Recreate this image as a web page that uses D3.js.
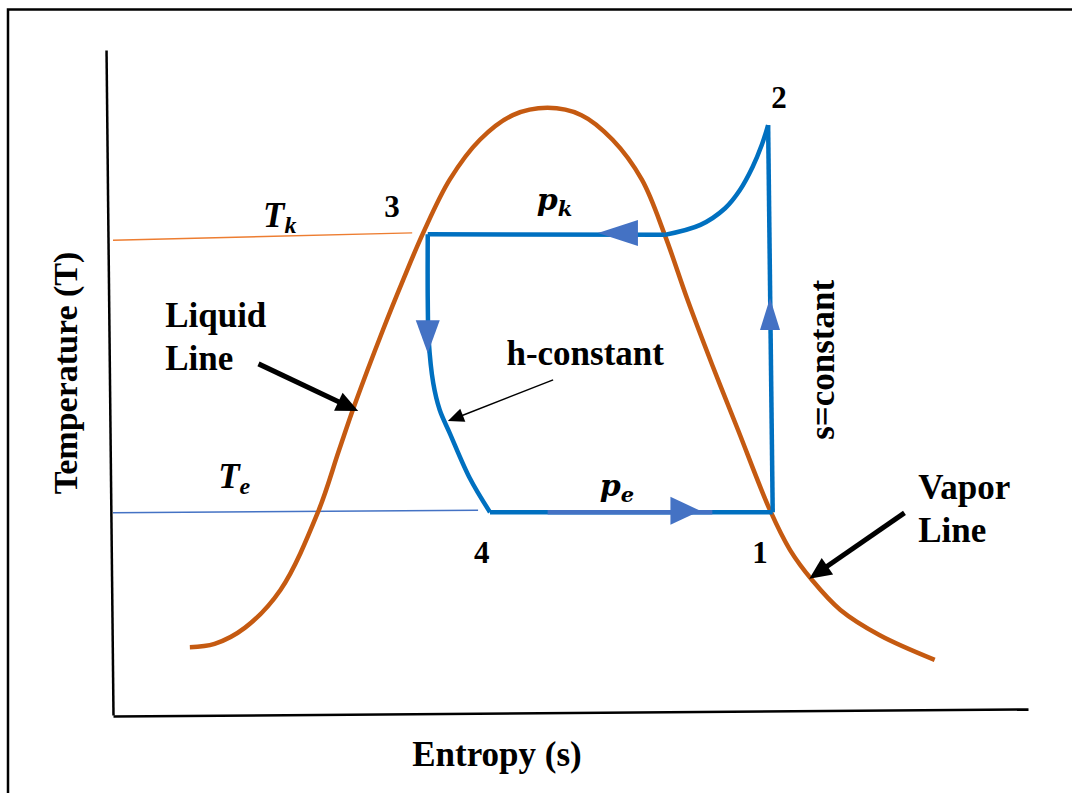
<!DOCTYPE html>
<html>
<head>
<meta charset="utf-8">
<script src="https://cdn.jsdelivr.net/npm/d3@7"></script>
<style>
  body { margin: 0; background: #fff; }
  svg text { font-family: "Liberation Serif", "Times New Roman", serif; font-weight: bold; fill: #000; }
</style>
</head>
<body>
<div id="chart"></div>
<script>
// saturation dome (s, T)
const domeS = [0.84, 1.11, 1.44, 1.83, 2.24, 2.47, 2.64, 2.95, 3.17, 3.39, 3.68, 4.01, 4.37, 4.75, 5.12, 5.46, 5.78, 6.03, 6.28, 6.55, 6.83, 7.18, 7.40, 7.64, 7.95, 8.38, 8.98];
const domeT = [1.02, 1.07, 1.31, 1.88, 3.05, 3.98, 4.66, 5.79, 6.54, 7.25, 8.05, 8.65, 9.02, 9.13, 9.02, 8.65, 8.05, 7.22, 6.24, 5.26, 4.29, 3.08, 2.48, 2.03, 1.58, 1.20, 0.83];

// cycle pieces
const condS = [3.44, 6.03];             // 3 -> dome crossing, p_k
const condT = [7.23, 7.22];
const desupS = [6.03, 6.42, 6.69, 6.85, 6.99, 7.09, 7.16];   // crossing -> 2
const desupT = [7.22, 7.37, 7.62, 7.89, 8.24, 8.57, 8.87];
const compS = [7.16, 7.21];             // 2 -> 1, s=constant
const compT = [8.87, 3.05];
const evapS = [7.21, 4.12];             // 1 -> 4, p_e
const evapT = [3.05, 3.05];
const evapMidS = [4.75, 6.55];
const valveS = [4.12, 3.90, 3.68, 3.57, 3.50, 3.45, 3.44, 3.44];  // 4 -> 3, h-constant
const valveT = [3.05, 3.56, 4.24, 4.59, 4.99, 5.64, 6.24, 7.23];

// isotherm lines
const tkS = [0, 3.27], tkT = [7.14, 7.25];
const teS = [0, 3.99], teT = [3.04, 3.08];

// flow arrows: tip position and direction (degrees, 0 = right, 90 = down)
const flowS = [5.30, 7.18, 3.44, 6.42];
const flowT = [7.25, 6.27, 5.44, 3.07];
const flowDir = [180, -90, 90, 0];
const flowLen = [40, 32, 33, 30];
const flowHalf = [13, 10, 12, 14];

// pointer arrows: from -> tip
const ptrFromS = [1.59, 8.65, 4.81], ptrFromT = [5.28, 3.04, 5.04];
const ptrToS = [2.68, 7.61, 3.66], ptrToT = [4.57, 2.05, 4.42];
const ptrWidth = [5, 5, 1.5];

// labels
const pointLabels = ["1", "2", "3", "4"];
const pointS = [7.07, 7.28, 3.05, 4.03];
const pointT = [2.29, 9.13, 7.49, 2.29];
const noteLines = [["Liquid", "Line"], ["h-constant"], ["Vapor", "Line"]];
const noteS = [0.57, 4.30, 8.80];
const noteT = [5.84, 5.26, 3.25];

const W = 1072, H = 793;
const svg = d3.select("#chart").append("svg").attr("width", W).attr("height", H);

const x = d3.scaleLinear().domain([0, 10]).range([113, 1028]);
const y = d3.scaleLinear().domain([0, 10]).range([715, 50]);

const zip = (a, b) => a.map((v, i) => [v, b[i]]);
const line = d3.line().x(d => x(d[0])).y(d => y(d[1]));
const smooth = d3.line().x(d => x(d[0])).y(d => y(d[1])).curve(d3.curveCatmullRom.alpha(0.5));

// frame
svg.append("path").attr("d", `M8,${H} L8,9.5 L${W},9.5`)
  .attr("fill", "none").attr("stroke", "#000").attr("stroke-width", 2.5);

// axes (no ticks)
svg.append("g").attr("transform", "translate(0,716) rotate(-0.44,113,0)")
  .call(d3.axisBottom(x).tickValues([]).tickSizeOuter(0))
  .call(g => g.select(".domain").attr("stroke", "#000").attr("stroke-width", 2.5));
svg.append("g").attr("transform", "translate(113,0) rotate(-0.6,0,716)")
  .call(d3.axisLeft(y).tickValues([]).tickSizeOuter(0))
  .call(g => g.select(".domain").attr("stroke", "#000").attr("stroke-width", 2.5));

// isotherms
svg.append("path").attr("d", line(zip(tkS, tkT))).attr("stroke", "#ed7d31").attr("stroke-width", 1.5).attr("fill", "none");
svg.append("path").attr("d", line(zip(teS, teT))).attr("stroke", "#4472c4").attr("stroke-width", 1.5).attr("fill", "none");

// dome
svg.append("path").attr("d", smooth(zip(domeS, domeT)))
  .attr("fill", "none").attr("stroke", "#c55a11").attr("stroke-width", 4.5);

// cycle
const blue = "#0070c0", lightBlue = "#4472c4";
const cyc = svg.append("g").attr("fill", "none").attr("stroke", blue).attr("stroke-width", 4.5);
cyc.append("path").attr("d", line(zip(condS, condT)));
cyc.append("path").attr("d", smooth(zip(desupS, desupT)));
cyc.append("path").attr("d", line(zip(compS, compT)));
cyc.append("path").attr("d", line(zip(evapS, evapT)));
cyc.append("path").attr("d", line(zip(evapMidS, evapT))).attr("stroke", lightBlue);
cyc.append("path").attr("d", smooth(zip(valveS, valveT)));

// flow arrows
flowS.forEach((s, i) => {
  const L = flowLen[i], h = flowHalf[i];
  svg.append("path")
    .attr("d", `M0,0 L${-L},${-h} L${-L},${h} Z`)
    .attr("fill", lightBlue)
    .attr("transform", `translate(${x(s)},${y(flowT[i])}) rotate(${flowDir[i]})`);
});

// pointer arrows
ptrFromS.forEach((s, i) => {
  const x0 = x(s), y0 = y(ptrFromT[i]), x1 = x(ptrToS[i]), y1 = y(ptrToT[i]);
  const ang = Math.atan2(y1 - y0, x1 - x0) * 180 / Math.PI;
  const len = Math.hypot(x1 - x0, y1 - y0);
  const w = ptrWidth[i];
  const headL = w > 2 ? 22 : 16, headH = w > 2 ? 10 : 7;
  const g = svg.append("g").attr("transform", `translate(${x0},${y0}) rotate(${ang})`);
  g.append("line").attr("x1", 0).attr("y1", 0).attr("x2", len - headL + 2).attr("y2", 0)
    .attr("stroke", "#000").attr("stroke-width", w);
  g.append("path").attr("d", `M${len},0 L${len - headL},${-headH} L${len - headL},${headH} Z`).attr("fill", "#000");
});

// state point labels
svg.selectAll(".pt").data(pointLabels).join("text")
  .attr("class", "pt")
  .attr("x", (d, i) => x(pointS[i])).attr("y", (d, i) => y(pointT[i]))
  .attr("text-anchor", "middle").style("font-size", "31px")
  .text(d => d);

// notes
noteLines.forEach((lines, i) => {
  const t = svg.append("text").attr("x", x(noteS[i])).attr("y", y(noteT[i])).style("font-size", "35px");
  lines.forEach((l, j) => t.append("tspan").attr("x", x(noteS[i])).attr("dy", j ? 43 : 0).text(l));
});

// s=constant
svg.append("text").attr("transform", `translate(${x(7.88)},${y(5.34)}) rotate(-90)`)
  .attr("text-anchor", "middle").style("font-size", "35px").text("s=constant");

// math labels
function mathLabel(px, py, main, sub, size, subSize, font) {
  const t = svg.append("text").attr("x", px).attr("y", py)
    .style("font-style", "italic").style("font-size", size + "px");
  if (font) t.style("font-family", font);
  t.append("tspan").text(main);
  t.append("tspan").attr("dy", 6).style("font-size", subSize + "px").text(sub);
}
mathLabel(x(1.64), y(7.34), "T", "k", 35, 24);
mathLabel(x(1.15), y(3.41), "T", "e", 35, 24);
mathLabel(x(4.63), y(7.59), "p", "k", 30, 21, "DejaVu Serif");
mathLabel(x(5.32), y(3.29), "p", "e", 30, 21, "DejaVu Serif");

// axis titles
svg.append("text").attr("x", 497).attr("y", 766).attr("text-anchor", "middle")
  .style("font-size", "35px").text("Entropy (s)");
svg.append("text").attr("transform", "translate(77,373) rotate(-90)").attr("text-anchor", "middle")
  .style("font-size", "34px").text("Temperature (T)");
</script>
</body>
</html>
